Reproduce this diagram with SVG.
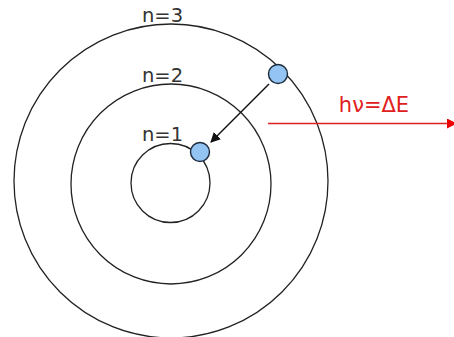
<svg xmlns="http://www.w3.org/2000/svg" width="454" height="337" viewBox="0 0 454 337">
<style>
.orbit{fill:none;stroke:#222;stroke-width:1.3}
.lbl{font-family:"DejaVu Sans","Liberation Sans",sans-serif;font-size:19.5px;fill:#333}
.e{fill:#93c4f4;stroke:#1c2a3a;stroke-width:1.4}
</style>
<defs>
<marker id="ah" viewBox="0 0 10 10" refX="9" refY="5" markerWidth="10" markerHeight="10" markerUnits="userSpaceOnUse" orient="auto">
<path d="M0,0 L10,5 L0,10 Z" fill="#111"/>
</marker>
<marker id="rh" viewBox="0 0 10 10" refX="9" refY="5" markerWidth="10" markerHeight="10" markerUnits="userSpaceOnUse" orient="auto">
<path d="M0,0 L10,5 L0,10 Z" fill="#e00"/>
</marker>
</defs>
<rect width="454" height="337" fill="#fff"/>
<g id="orbit3"><circle class="orbit" cx="171" cy="181" r="157"/><text class="lbl" x="162.5" y="22" text-anchor="middle">n=3</text></g>
<g id="orbit2"><circle class="orbit" cx="171" cy="184" r="100"/><text class="lbl" x="162.5" y="82" text-anchor="middle">n=2</text></g>
<g id="orbit1"><circle class="orbit" cx="170.5" cy="183" r="39.5"/><text class="lbl" x="162.5" y="141" text-anchor="middle">n=1</text></g>
<g id="connectors">
<line x1="269" y1="84" x2="211" y2="142" stroke="#111" stroke-width="1.4" marker-end="url(#ah)"/>
<line x1="268" y1="123.5" x2="456" y2="123.5" stroke="#e02020" stroke-width="1.5" marker-end="url(#rh)"/>
</g>
<g id="electron-outer"><circle class="e" cx="278" cy="74" r="9.5"/></g>
<g id="electron-inner"><circle class="e" cx="200" cy="152" r="9.5"/></g>
<g id="photon"><text x="374" y="112" text-anchor="middle" font-family="DejaVu Sans,Liberation Sans,sans-serif" font-size="21" fill="#e02020">hν=ΔE</text></g>
</svg>
